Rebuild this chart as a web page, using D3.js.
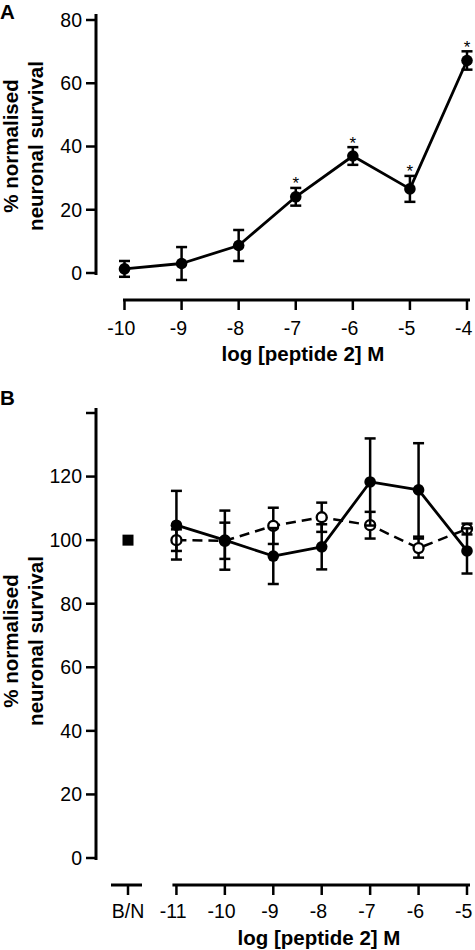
<!DOCTYPE html>
<html>
<head>
<meta charset="utf-8">
<script src="https://cdn.jsdelivr.net/npm/d3@7"></script>
<style>
  html, body { margin: 0; padding: 0; background: #fff; }
  svg { display: block; }
  text { font-family: "Liberation Sans", Arial, Helvetica, sans-serif; fill: #000; }
</style>
</head>
<body>
<svg id="chart" width="475" height="950"></svg>
<script>
// ---------- Data ----------
// Panel A
const xA = [-10, -9, -8, -7, -6, -5, -4];
const meanA = [1.3, 3.0, 8.7, 24.1, 37.0, 26.6, 67.2];
const errA = [2.5, 5.2, 4.9, 2.8, 2.8, 4.1, 2.9];
const sigA = [false, false, false, true, true, true, true];
const yTicksA = [0, 20, 40, 60, 80];

// Panel B
const xB = [-11, -10, -9, -8, -7, -6, -5];
const filledMeanB = [104.7, 100.0, 95.0, 97.9, 118.3, 115.8, 96.6];
const filledErrB = [10.8, 9.3, 8.8, 7.1, 13.7, 14.7, 7.1];
const openMeanB = [100.0, 99.8, 104.5, 107.2, 104.7, 97.5, 103.5];
const openErrB = [3.4, 5.7, 5.7, 4.6, 4.2, 3.0, 1.7];
const basalLabel = "B/N";
const basalPos = -12;
const basalValue = 100;
const yTicksB = [0, 20, 40, 60, 80, 100, 120, 140];
const yLabelsB = ["0", "20", "40", "60", "80", "100", "120", ""];

const xTitle = "log [peptide 2] M";
const yTitle1 = "% normalised";
const yTitle2 = "neuronal survival";

// ---------- Drawing ----------
const svg = d3.select("#chart");
const FONT_TICK = 19.5;
const FONT_BOLD = 20.5;

function textWidth(str, size, weight) {
  const t = svg.append("text").attr("font-size", size).attr("font-weight", weight || "normal").text(str);
  const w = t.node().getComputedTextLength();
  t.remove();
  return w;
}

function yAxis(g, y, ticks, labels, axisX, top, bottom) {
  g.append("line").attr("x1", axisX).attr("x2", axisX)
    .attr("y1", top).attr("y2", bottom)
    .attr("stroke", "#000").attr("stroke-width", 3);
  ticks.forEach((t, i) => {
    g.append("line").attr("x1", axisX - 10).attr("x2", axisX)
      .attr("y1", y(t)).attr("y2", y(t))
      .attr("stroke", "#000").attr("stroke-width", 2.5);
    g.append("text").attr("x", axisX - 14).attr("y", y(t))
      .attr("dy", "0.35em").attr("text-anchor", "end")
      .attr("font-size", FONT_TICK).text(labels[i]);
  });
}

function xTickLabel(g, x, str, yBase) {
  // centre the digits on the tick, letting a leading minus hang left
  const full = textWidth(str, FONT_TICK);
  const core = str.startsWith("-") ? textWidth(str.slice(1), FONT_TICK) : full;
  g.append("text").attr("x", x - core / 2 - (full - core)).attr("y", yBase)
    .attr("text-anchor", "start").attr("font-size", FONT_TICK).text(str);
}

function xAxisSegment(g, x, ticks, labels, x0, x1, axisY, labelY) {
  g.append("line").attr("x1", x0).attr("x2", x1).attr("y1", axisY).attr("y2", axisY)
    .attr("stroke", "#000").attr("stroke-width", 3);
  ticks.forEach((t, i) => {
    g.append("line").attr("x1", x(t)).attr("x2", x(t))
      .attr("y1", axisY).attr("y2", axisY + 10)
      .attr("stroke", "#000").attr("stroke-width", 2.5);
    xTickLabel(g, x(t), labels[i], labelY);
  });
}

function yTitle(g, cy) {
  g.append("text").attr("transform", `translate(18,${cy}) rotate(-90)`)
    .attr("text-anchor", "middle").attr("font-size", FONT_BOLD).attr("font-weight", "bold")
    .text(yTitle1);
  g.append("text").attr("transform", `translate(43,${cy}) rotate(-90)`)
    .attr("text-anchor", "middle").attr("font-size", FONT_BOLD).attr("font-weight", "bold")
    .text(yTitle2);
}

function errorBars(g, x, y, xs, means, errs) {
  xs.forEach((xv, i) => {
    const cx = x(xv), yt = y(means[i] + errs[i]), yb = y(means[i] - errs[i]);
    g.append("line").attr("x1", cx).attr("x2", cx).attr("y1", yt).attr("y2", yb)
      .attr("stroke", "#000").attr("stroke-width", 2.5);
    [yt, yb].forEach(yy => g.append("line").attr("x1", cx - 5.5).attr("x2", cx + 5.5)
      .attr("y1", yy).attr("y2", yy).attr("stroke", "#000").attr("stroke-width", 2.5));
  });
}

// ----- Panel A -----
const gA = svg.append("g");
const xScaleA = d3.scaleLinear().domain([-10, -4]).range([124.5, 467]);
const yScaleA = d3.scaleLinear().domain([0, 80]).range([273, 20]);

gA.append("text").attr("x", 0).attr("y", 19).attr("font-size", FONT_BOLD)
  .attr("font-weight", "bold").text("A");

yAxis(gA, yScaleA, yTicksA, yTicksA.map(String), 96, yScaleA(80) - 6, yScaleA(0) + 2);
xAxisSegment(gA, xScaleA, xA, xA.map(String), xScaleA(-10) - 1.5, xScaleA(-4) + 3, 300, 335);
gA.append("text").attr("x", 303).attr("y", 361).attr("text-anchor", "middle")
  .attr("font-size", FONT_BOLD).attr("font-weight", "bold").text(xTitle);
yTitle(gA, 146);

const lineA = d3.line().x((d, i) => xScaleA(xA[i])).y(d => yScaleA(d));
gA.append("path").datum(meanA).attr("d", lineA).attr("fill", "none")
  .attr("stroke", "#000").attr("stroke-width", 2.8).attr("stroke-linejoin", "round");
errorBars(gA, xScaleA, yScaleA, xA, meanA, errA);
gA.selectAll("circle.pt").data(meanA).enter().append("circle")
  .attr("cx", (d, i) => xScaleA(xA[i])).attr("cy", d => yScaleA(d)).attr("r", 5.8)
  .attr("fill", "#000");
xA.forEach((xv, i) => {
  if (sigA[i]) {
    gA.append("text").attr("x", xScaleA(xv)).attr("y", yScaleA(meanA[i] + errA[i]) + 1.5)
      .attr("text-anchor", "middle").attr("font-size", 17).text("*");
  }
});

// ----- Panel B -----
const gB = svg.append("g");
const xScaleB = d3.scaleLinear().domain([-12, -5]).range([128, 467]);
const yScaleB = d3.scaleLinear().domain([0, 140]).range([858, 413]);

gB.append("text").attr("x", 0).attr("y", 405).attr("font-size", FONT_BOLD)
  .attr("font-weight", "bold").text("B");

yAxis(gB, yScaleB, yTicksB, yLabelsB, 96, yScaleB(140) - 5, yScaleB(0) + 2);
xAxisSegment(gB, xScaleB, [basalPos], [basalLabel], xScaleB(basalPos) - 17, xScaleB(basalPos) + 14, 885, 918);
xAxisSegment(gB, xScaleB, xB, xB.map(String), xScaleB(-11) - 4, xScaleB(-5) + 3, 885, 918);
gB.append("text").attr("x", 319).attr("y", 945).attr("text-anchor", "middle")
  .attr("font-size", FONT_BOLD).attr("font-weight", "bold").text(xTitle);
yTitle(gB, 641);

// basal square
gB.append("rect").attr("x", xScaleB(basalPos) - 5.5).attr("y", yScaleB(basalValue) - 5.5)
  .attr("width", 11).attr("height", 11).attr("fill", "#000");

const lineB = d3.line().x((d, i) => xScaleB(xB[i])).y(d => yScaleB(d));
// open series (dashed)
gB.append("path").datum(openMeanB).attr("d", lineB).attr("fill", "none")
  .attr("stroke", "#000").attr("stroke-width", 2.5).attr("stroke-dasharray", "10,6");
errorBars(gB, xScaleB, yScaleB, xB, openMeanB, openErrB);
gB.selectAll("circle.open").data(openMeanB).enter().append("circle")
  .attr("cx", (d, i) => xScaleB(xB[i])).attr("cy", d => yScaleB(d)).attr("r", 5)
  .attr("fill", "#fff").attr("stroke", "#000").attr("stroke-width", 2.3);
// filled series (solid)
gB.append("path").datum(filledMeanB).attr("d", lineB).attr("fill", "none")
  .attr("stroke", "#000").attr("stroke-width", 2.8).attr("stroke-linejoin", "round");
errorBars(gB, xScaleB, yScaleB, xB, filledMeanB, filledErrB);
gB.selectAll("circle.filled").data(filledMeanB).enter().append("circle")
  .attr("cx", (d, i) => xScaleB(xB[i])).attr("cy", d => yScaleB(d)).attr("r", 5.8)
  .attr("fill", "#000");
</script>
</body>
</html>
